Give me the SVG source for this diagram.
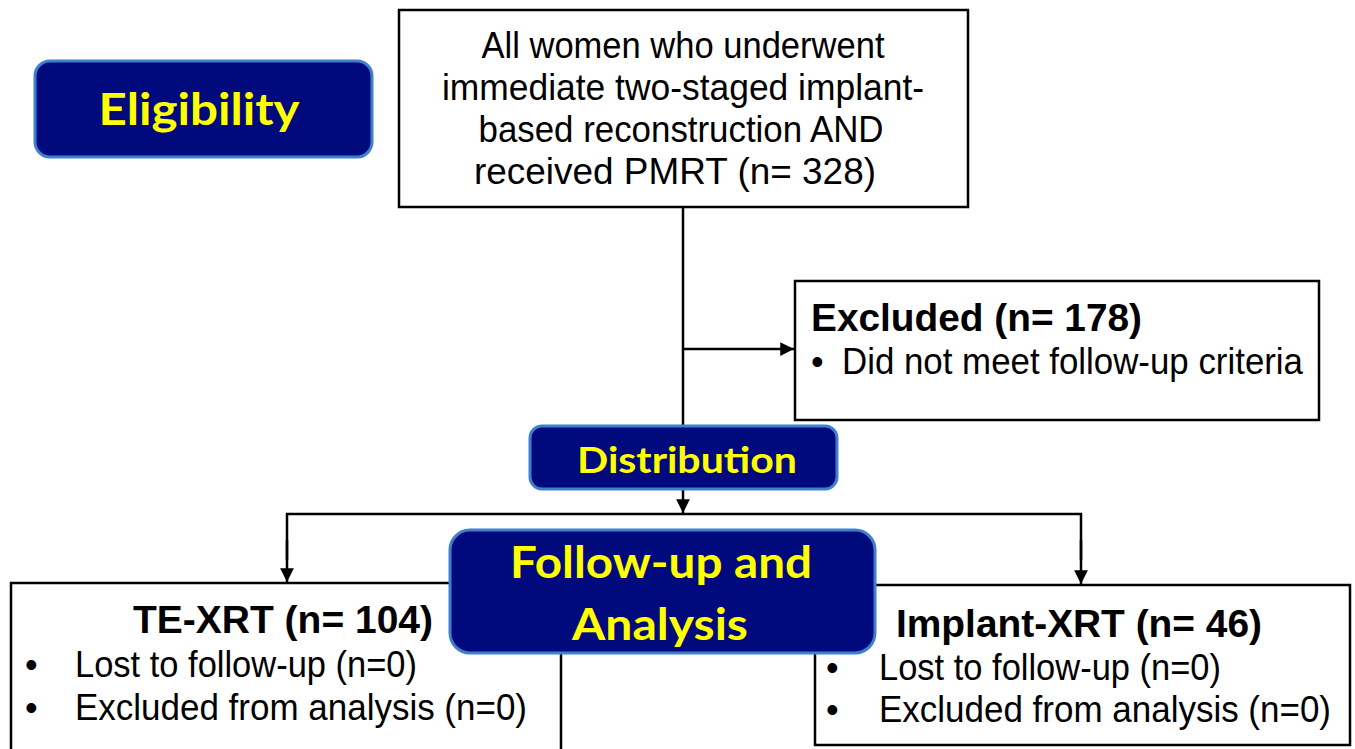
<svg xmlns="http://www.w3.org/2000/svg" width="1355" height="749" viewBox="0 0 1355 749">
<defs>
<style>
.box{fill:#fff;stroke:#000;stroke-width:2.5}
.lbl{fill:#000a7c;stroke:#3f7fd0;stroke-width:3}
.lt{font-family:Lato,"Open Sans",sans-serif;font-weight:bold;fill:#ffff00;text-anchor:middle}
.t{font-family:"Liberation Sans",Arial,sans-serif;font-size:36px;fill:#000}
.b{font-family:"Liberation Sans",Arial,sans-serif;font-size:38.5px;font-weight:bold;fill:#000}
.c{stroke:#000;stroke-width:2.5;fill:none}
</style>
<marker id="ah" viewBox="0 0 10 10" refX="10" refY="5" markerWidth="5.5" markerHeight="5.5" markerUnits="strokeWidth" orient="auto">
<path d="M0,0 L10,5 L0,10 Z" fill="#000"/>
</marker>
</defs>
<rect width="1355" height="749" fill="#fff"/>
<g id="connectors">
<line class="c" x1="683" y1="207" x2="683" y2="426"/>
<line class="c" x1="683" y1="349" x2="794" y2="349" marker-end="url(#ah)"/>
<line class="c" x1="683" y1="489" x2="683" y2="513" marker-end="url(#ah)"/>
<polyline class="c" points="287,560 287,514 1081,514 1081,560"/>
<line class="c" x1="287" y1="540" x2="287" y2="582" marker-end="url(#ah)"/>
<line class="c" x1="1081" y1="540" x2="1081" y2="584" marker-end="url(#ah)"/>
</g>
<g id="eligibility">
<rect class="lbl" x="35" y="61" width="337" height="96" rx="15"/>
<text class="lt" x="199" y="125" font-size="43" textLength="201" lengthAdjust="spacingAndGlyphs">Eligibility</text>
</g>
<g id="all-women">
<rect class="box" x="399" y="10" width="569" height="197"/>
<text class="t" x="683" y="58" text-anchor="middle" textLength="403" lengthAdjust="spacingAndGlyphs">All women who underwent</text>
<text class="t" x="683" y="100" text-anchor="middle" textLength="482" lengthAdjust="spacingAndGlyphs">immediate two-staged implant-</text>
<text class="t" x="681" y="142" text-anchor="middle" textLength="405" lengthAdjust="spacingAndGlyphs">based reconstruction AND</text>
<text class="t" x="675" y="184" text-anchor="middle" textLength="402" lengthAdjust="spacingAndGlyphs">received PMRT (n= 328)</text>
</g>
<g id="excluded">
<rect class="box" x="795" y="281" width="524" height="139"/>
<text class="b" x="811" y="331" textLength="331" lengthAdjust="spacingAndGlyphs">Excluded (n= 178)</text>
<text class="t" x="811" y="374">•</text>
<text class="t" x="842" y="374" textLength="461" lengthAdjust="spacingAndGlyphs">Did not meet follow-up criteria</text>
</g>
<g id="te-xrt">
<rect class="box" x="11" y="583" width="550" height="180"/>
<text class="b" x="133" y="633" textLength="300" lengthAdjust="spacingAndGlyphs">TE-XRT (n= 104)</text>
<text class="t" x="25" y="677">•</text>
<text class="t" x="75" y="677" textLength="342" lengthAdjust="spacingAndGlyphs">Lost to follow-up (n=0)</text>
<text class="t" x="25" y="720">•</text>
<text class="t" x="75" y="720" textLength="452" lengthAdjust="spacingAndGlyphs">Excluded from analysis (n=0)</text>
</g>
<g id="implant-xrt">
<rect class="box" x="815" y="585" width="535" height="160"/>
<text class="b" x="896" y="637" textLength="366" lengthAdjust="spacingAndGlyphs">Implant-XRT (n= 46)</text>
<text class="t" x="826" y="680">•</text>
<text class="t" x="879" y="680" textLength="342" lengthAdjust="spacingAndGlyphs">Lost to follow-up (n=0)</text>
<text class="t" x="826" y="722">•</text>
<text class="t" x="879" y="722" textLength="452" lengthAdjust="spacingAndGlyphs">Excluded from analysis (n=0)</text>
</g>
<g id="distribution">
<rect class="lbl" x="530" y="426" width="307" height="63" rx="12"/>
<text class="lt" x="687" y="473" font-size="37" textLength="220" lengthAdjust="spacingAndGlyphs">Distribution</text>
</g>
<g id="follow-up">
<rect class="lbl" x="450" y="530" width="425" height="123" rx="20"/>
<text class="lt" x="661" y="578" font-size="43" textLength="302" lengthAdjust="spacingAndGlyphs">Follow-up and</text>
<text class="lt" x="660" y="640" font-size="43" textLength="176" lengthAdjust="spacingAndGlyphs">Analysis</text>
</g>
</svg>
